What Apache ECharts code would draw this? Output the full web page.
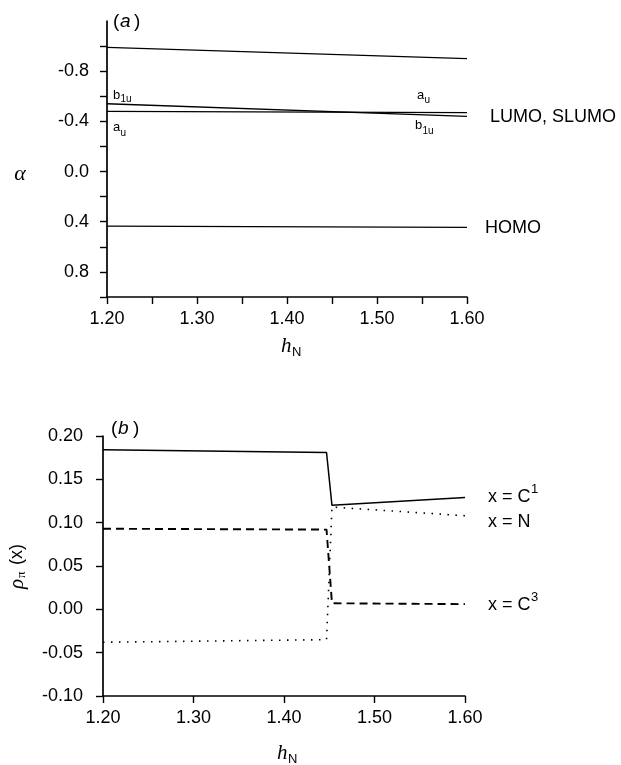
<!DOCTYPE html>
<html>
<head>
<meta charset="utf-8">
<script src="https://cdn.jsdelivr.net/npm/echarts@6/dist/echarts.min.js"></script>
<style>
  html, body { margin: 0; padding: 0; background: #fff; }
  #chart { width: 621px; height: 765px; }
</style>
</head>
<body>
<div id="chart"></div>
<script>
// panel (a): orbital energies vs h_N
const hA = [1.20, 1.60]
const topLevel = [-0.99, -0.90]
const b1u = [-0.54, -0.44]
const au = [-0.48, -0.47]
const homo = [0.435, 0.445]
const alphaTicks = [-1.0, -0.8, -0.6, -0.4, -0.2, 0.0, 0.2, 0.4, 0.6, 0.8, 1.0]
const alphaLabels = [-0.8, -0.4, 0.0, 0.4, 0.8]

// panel (b): pi charge densities vs h_N
const hB = [1.20, 1.447, 1.453, 1.60]
const rhoC1 = [0.184, 0.181, 0.120, 0.129]
const rhoN = [-0.038, -0.035, 0.118, 0.108]
const rhoC3 = [0.093, 0.092, 0.007, 0.006]

const FONT = '"Liberation Sans", Arial, sans-serif'
const SERIF = '"Liberation Serif", "DejaVu Serif", serif'

const pairs = (xs, ys) => xs.map((x, i) => [x, ys[i]])

const chart = echarts.init(document.getElementById('chart'))

// small helper for annotation text
const txt = (x, y, text, size, extra) => ({
  type: 'text',
  x: x,
  y: y,
  silent: true,
  style: Object.assign({
    text: text,
    fontSize: size,
    fontFamily: FONT,
    fill: '#000',
    align: 'left',
    verticalAlign: 'middle',
    textAlign: 'left',
    textVerticalAlign: 'middle'
  }, extra || {})
})

const axisLine = { show: true, onZero: false, lineStyle: { color: '#000', width: 1.7 } }
const axisTick = { show: true, length: 7, lineStyle: { color: '#000', width: 1.4 } }
const labelStyle = { color: '#000', fontSize: 18, fontFamily: FONT }

const lineSeries = (name, xi, yi, data, lineType, width) => ({
  name: name,
  type: 'line',
  xAxisIndex: xi,
  yAxisIndex: yi,
  data: data,
  symbol: 'none',
  silent: true,
  lineStyle: { color: '#000', width: width, type: lineType }
})

const option = {
  animation: false,
  backgroundColor: '#fff',
  grid: [
    { left: 107, top: 21, width: 360, height: 276 },
    { left: 103, top: 436, width: 362, height: 260 }
  ],
  xAxis: [
    {
      type: 'value', gridIndex: 0, min: 1.2, max: 1.6, interval: 0.05,
      axisLine: axisLine, axisTick: axisTick, splitLine: { show: false },
      axisLabel: Object.assign({}, labelStyle, {
        margin: 13,
        formatter: v => (Math.round(v * 100) % 10 === 0 ? v.toFixed(2) : '')
      })
    },
    {
      type: 'value', gridIndex: 1, min: 1.2, max: 1.6, interval: 0.1,
      axisLine: axisLine, axisTick: axisTick, splitLine: { show: false },
      axisLabel: Object.assign({}, labelStyle, { margin: 13, formatter: v => v.toFixed(2) })
    }
  ],
  yAxis: [
    {
      type: 'value', gridIndex: 0, min: -1.2, max: 1.0, inverse: true,
      axisLine: axisLine,
      axisTick: Object.assign({}, axisTick, { customValues: alphaTicks }),
      splitLine: { show: false },
      axisLabel: Object.assign({}, labelStyle, {
        margin: 18,
        customValues: alphaLabels,
        formatter: v => (Math.round(v * 10) / 10).toFixed(1)
      })
    },
    {
      type: 'value', gridIndex: 1, min: -0.1, max: 0.2, interval: 0.05,
      axisLine: axisLine, axisTick: axisTick, splitLine: { show: false },
      axisLabel: Object.assign({}, labelStyle, { margin: 20, formatter: v => v.toFixed(2) })
    }
  ],
  series: [
    lineSeries('top', 0, 0, pairs(hA, topLevel), 'solid', 1.4),
    lineSeries('b1u', 0, 0, pairs(hA, b1u), 'solid', 1.4),
    lineSeries('au', 0, 0, pairs(hA, au), 'solid', 1.4),
    lineSeries('HOMO', 0, 0, pairs(hA, homo), 'solid', 1.2),
    lineSeries('x = C1', 1, 1, pairs(hB, rhoC1), 'solid', 1.5),
    lineSeries('x = N', 1, 1, pairs(hB, rhoN), [1.5, 6.5], 1.6),
    lineSeries('x = C3', 1, 1, pairs(hB, rhoC3), [8, 5], 1.9)
  ],
  graphic: [
    // panel labels
    txt(113, 22, '(', 19),
    txt(120, 22, 'a', 19, { fontStyle: 'italic' }),
    txt(134, 22, ')', 19),
    txt(111, 429, '(', 19),
    txt(118, 429, 'b', 19, { fontStyle: 'italic' }),
    txt(133, 429, ')', 19),

    // axis names
    txt(20, 174, 'α', 22, { fontStyle: 'italic', fontFamily: SERIF, align: 'center', textAlign: 'center' }),
    txt(281, 346, 'h', 21, { fontStyle: 'italic', fontFamily: SERIF }),
    txt(292, 352, 'N', 13),
    txt(277, 753, 'h', 21, { fontStyle: 'italic', fontFamily: SERIF }),
    txt(288, 759, 'N', 13),
    {
      type: 'group',
      x: 17,
      y: 561,
      rotation: Math.PI / 2,
      children: [
        txt(-28, 0, 'ρ', 21, { fontStyle: 'italic', fontFamily: SERIF }),
        txt(-17, 5, 'π', 13, { fontFamily: SERIF }),
        txt(-4, 0, '(x)', 18)
      ]
    },

    // panel (a) orbital tags
    txt(113, 95, 'b', 13),
    txt(120.5, 99.5, '1u', 10),
    txt(113, 127, 'a', 13),
    txt(120.5, 133, 'u', 10),
    txt(417, 95.5, 'a', 13),
    txt(424.5, 100, 'u', 10),
    txt(415, 125.5, 'b', 13),
    txt(422.5, 131, '1u', 10),
    txt(490, 117, 'LUMO, SLUMO', 18),
    txt(485, 228, 'HOMO', 18),

    // panel (b) series tags
    txt(488, 497, 'x = C', 18),
    txt(531, 489, '1', 13),
    txt(488, 522, 'x = N', 18),
    txt(488, 605, 'x = C', 18),
    txt(531, 597, '3', 13)
  ]
}

chart.setOption(option)
</script>
</body>
</html>
